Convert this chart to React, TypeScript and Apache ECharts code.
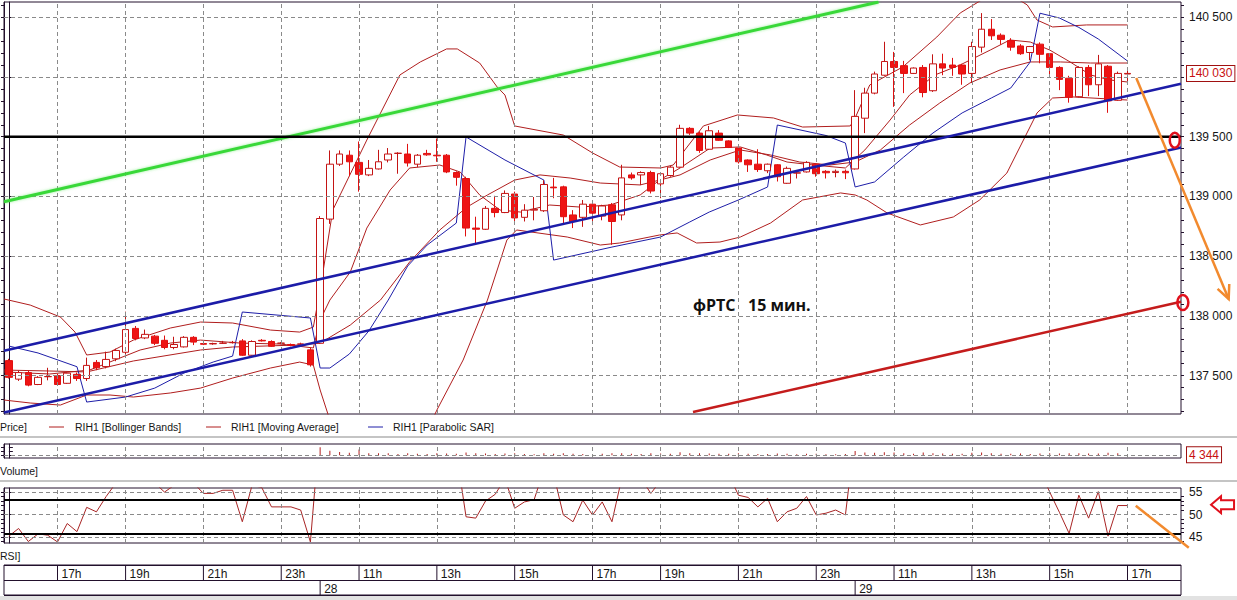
import { useEffect, useRef } from "react";
import * as echarts from "echarts";

// ---------------- DATA ----------------
// candles: [open, close, low, high], one per 15-minute bar (27th 15:45 ... 29th 17:00)
const candles: number[][] = [
  [137625, 137485, 137475, 137640], [137470, 137525, 137455, 137540], [137525, 137420, 137410, 137540],
  [137425, 137485, 137420, 137495], [137490, 137492, 137460, 137565], [137500, 137425, 137415, 137515],
  [137435, 137520, 137430, 137525], [137510, 137475, 137455, 137525], [137475, 137585, 137455, 137650],
  [137610, 137565, 137545, 137630], [137575, 137635, 137560, 137700], [137640, 137710, 137620, 137725],
  [137695, 137885, 137655, 138035], [137895, 137810, 137795, 137915], [137815, 137845, 137805, 137885],
  [137830, 137770, 137755, 137840], [137795, 137735, 137720, 137835], [137735, 137760, 137720, 137825],
  [137740, 137820, 137735, 137830], [137820, 137780, 137755, 137830], [137768, 137762, 137755, 137775],
  [137765, 137768, 137758, 137775], [137770, 137772, 137765, 137790], [137775, 137778, 137768, 137790],
  [137790, 137670, 137665, 137805], [137670, 137785, 137665, 137795], [137795, 137790, 137785, 137805],
  [137785, 137745, 137740, 137795], [137770, 137772, 137762, 137780], [137760, 137752, 137745, 137768],
  [137762, 137765, 137755, 137775], [137715, 137590, 137575, 137735], [137770, 138815, 137765, 138835],
  [138810, 139270, 138770, 139385], [139270, 139355, 139255, 139385], [139345, 139290, 139170, 139385],
  [139285, 139185, 139040, 139460], [139180, 139235, 139170, 139305], [139230, 139290, 139225, 139390],
  [139305, 139355, 139285, 139405], [139360, 139362, 139190, 139370], [139355, 139280, 139250, 139440],
  [139270, 139345, 139245, 139355], [139360, 139348, 139340, 139390], [139345, 139340, 139290, 139485],
  [139345, 139205, 139195, 139355], [139200, 139160, 139090, 139210], [139150, 138735, 138665, 139165],
  [138735, 138725, 138595, 138830], [138725, 138900, 138720, 138920], [138900, 138865, 138825, 139005],
  [138865, 139025, 138860, 139050], [139020, 138820, 138775, 139040], [138825, 138885, 138790, 138935],
  [138885, 138892, 138800, 138995], [138880, 139100, 138870, 139135], [139078, 139072, 138985, 139155],
  [139080, 138830, 138775, 139090], [138845, 138790, 138735, 138885], [138825, 138935, 138745, 138970],
  [138935, 138860, 138760, 138945], [138835, 138920, 138800, 138930], [138930, 138790, 138595, 138945],
  [138845, 139155, 138800, 139265], [139180, 139155, 139140, 139200], [139180, 139200, 139095, 139210],
  [139200, 139045, 139025, 139215], [139105, 139190, 138985, 139200], [139175, 139245, 139165, 139255],
  [139245, 139570, 139240, 139600], [139570, 139530, 139515, 139580], [139530, 139385, 139365, 139545],
  [139395, 139550, 139390, 139590], [139530, 139470, 139465, 139555], [139465, 139410, 139405, 139470],
  [139405, 139290, 139275, 139410], [139305, 139265, 139205, 139310], [139270, 139225, 139205, 139395],
  [139215, 139270, 139195, 139275], [139265, 139165, 139125, 139270], [139110, 139235, 139105, 139250],
  [139195, 139198, 139150, 139210], [139205, 139285, 139200, 139295], [139270, 139190, 139165, 139275],
  [139210, 139198, 139150, 139220], [139200, 139210, 139160, 139225], [139210, 139198, 139145, 139225],
  [139230, 139670, 139225, 139890], [139655, 139865, 139530, 139910], [139865, 140025, 139855, 140045],
  [140015, 140130, 140010, 140295], [140130, 140080, 139750, 140210], [140095, 140030, 139865, 140135],
  [140030, 140075, 140025, 140080], [140080, 139870, 139830, 140100], [139885, 140110, 139875, 140190],
  [140110, 140075, 140015, 140195], [140100, 140080, 140010, 140160], [140100, 140025, 139935, 140110],
  [140030, 140255, 139950, 140295], [140250, 140400, 140205, 140535], [140400, 140345, 140310, 140485],
  [140350, 140315, 140270, 140365], [140305, 140250, 140220, 140325], [140260, 140195, 140185, 140275],
  [140205, 140255, 140140, 140260], [140275, 140190, 140115, 140290], [140195, 140080, 140005, 140200],
  [140080, 139980, 139890, 140090], [139990, 139830, 139785, 140010], [139835, 140080, 139830, 140090],
  [140080, 139935, 139840, 140100], [139935, 140110, 139840, 140185], [140090, 139800, 139700, 140100],
  [139805, 140030, 139800, 140045], [140025, 140030, 139935, 140080],
];

const volume: number[] = [
  0, 0, 0, 0, 0, 0, 0, 0, 0, 0, 0, 0, 0, 0, 0, 0, 0, 0, 0, 0, 0, 0, 0, 0, 0, 0, 0, 0, 0, 0, 0, 0,
  85000, 47000, 35000, 25000, 60000, 20000, 20000, 20000, 12000, 20000, 15000, 12000, 22000, 18000, 15000, 30000,
  22000, 18000, 12000, 18000, 20000, 12000, 10000, 22000, 15000, 20000, 15000, 12000, 12000, 15000, 20000, 22000,
  15000, 12000, 20000, 18000, 15000, 32000, 20000, 22000, 18000, 15000, 15000, 22000, 15000, 12000, 12000, 18000,
  15000, 10000, 15000, 15000, 10000, 10000, 12000, 45000, 30000, 25000, 32000, 28000, 22000, 15000, 28000, 22000,
  18000, 15000, 15000, 25000, 30000, 22000, 15000, 15000, 18000, 12000, 18000, 20000, 18000, 22000, 20000, 18000,
  18000, 25000, 20000, 4344,
];

const rsi: number[] = [
  45.2, 46.9, 44.0, 45.7, 45.4, 43.9, 48.0, 46.2, 51.6, 50.6, 54.0, 57.0, 64.0, 60.0, 61.0, 57.0,
  55.0, 56.5, 59.0, 57.0, 54.7, 54.7, 55.4, 55.4, 48.4, 56.5, 56.0, 51.7, 51.7, 51.7, 51.0, 43.9,
  70.0, 78.0, 80.0, 77.0, 73.0, 74.0, 76.0, 77.0, 77.0, 74.0, 75.0, 75.0, 74.0, 68.0, 64.0, 49.5,
  49.2, 53.0, 54.5, 58.0, 51.4, 52.8, 53.3, 60.0, 59.0, 49.9, 48.4, 53.2, 49.9, 52.8, 48.4, 58.0,
  57.0, 58.0, 54.7, 57.5, 60.0, 69.0, 67.0, 60.0, 64.0, 62.0, 59.0, 54.3, 53.8, 51.7, 53.6, 48.4,
  50.6, 51.4, 54.0, 49.9, 50.3, 51.0, 49.9, 68.0, 72.0, 75.0, 77.0, 74.0, 71.0, 72.0, 63.0, 68.0,
  67.0, 66.0, 63.0, 69.0, 72.0, 70.0, 68.0, 65.0, 62.0, 63.0, 60.0, 55.0, 50.5, 45.8, 54.3, 49.2,
  55.1, 45.2, 52.0, 52.0,
];

// indicator lines: [bar index, price] at the vertices
const bbUpper: number[][] = [
  [-0.5, 138141], [2.2, 138090], [5.3, 137990], [6.8, 137864], [8.0, 137672], [10.4, 137697], [12.8, 137797],
  [16.6, 137898], [19.7, 137948], [23.0, 137940], [26.9, 137881], [29.9, 137864], [31.3, 137906], [32.0, 138216],
  [33.3, 138886], [36.8, 139472], [40.2, 140017], [42.3, 140126], [45.0, 140235], [46.1, 140235], [48.4, 140117],
  [50.2, 139916], [51.0, 139849], [52.0, 139590], [57.0, 139514], [60.0, 139364], [62.8, 139246], [67.0, 139238],
  [68.3, 139263], [71.4, 139590], [74.9, 139682], [78.6, 139657], [81.6, 139581], [86.5, 139590], [87.0, 139657],
  [88.5, 139933], [91.9, 140084], [95.4, 140335], [97.8, 140536], [100.0, 140645], [102.4, 140720], [104.7, 140603],
  [105.7, 140477], [107.3, 140419], [110.8, 140436], [115.0, 140436],
];
const bbMiddle: number[][] = [
  [-0.5, 137546], [4.2, 137538], [8.0, 137530], [12.8, 137622], [19.7, 137714], [23.0, 137739], [29.9, 137756],
  [32.0, 137772], [35.1, 137923], [38.2, 138132], [41.2, 138451], [44.3, 138719], [47.1, 138911], [49.2, 139012],
  [52.0, 139137], [54.6, 139180], [57.7, 139154], [60.8, 139112], [64.9, 139096], [69.0, 139180], [72.1, 139305],
  [75.2, 139389], [78.3, 139347], [81.3, 139288], [84.4, 139263], [87.0, 139288], [89.6, 139389], [92.6, 139598],
  [95.7, 139782], [98.8, 139950], [101.9, 140059], [105.0, 140126], [108.1, 140126], [111.2, 140117], [115.0, 140117],
];
const bbLower: number[][] = [
  [-0.5, 137295], [2.2, 137270], [5.3, 137253], [8.0, 137337], [10.4, 137337], [12.8, 137320], [16.6, 137354],
  [19.7, 137395], [23.0, 137479], [26.9, 137563], [29.9, 137613], [31.3, 137588], [32.0, 137379], [32.8, 137178],
  [34.6, 136709], [38.2, 136457], [41.2, 136709], [44.0, 137211], [46.7, 137630], [49.2, 138132], [51.2, 138635],
  [52.2, 138719], [57.4, 138660], [60.8, 138593], [62.8, 138610], [66.9, 138677], [68.7, 138694], [70.7, 138610],
  [73.1, 138618], [75.2, 138660], [78.3, 138777], [81.6, 138970], [85.5, 139029], [87.0, 139012], [88.2, 138970],
  [90.3, 138861], [93.7, 138761], [97.1, 138828], [99.8, 138970], [102.6, 139196], [105.7, 139699], [107.3, 139824],
  [109.4, 139833], [115.0, 139807],
];
const maLine: number[][] = [
  [-0.5, 137530], [4.2, 137513], [8.3, 137546], [10.9, 137630], [13.5, 137714], [16.6, 137772], [19.7, 137797],
  [23.8, 137772], [27.9, 137764], [31.3, 137731], [32.0, 137965], [33.0, 138132], [35.1, 138367], [36.8, 138735],
  [39.2, 139054], [41.2, 139238], [44.3, 139263], [46.4, 139204], [48.4, 139012], [50.5, 138886], [52.6, 138869],
  [55.6, 138928], [58.7, 138911], [61.8, 138928], [64.9, 139012], [66.9, 139137], [69.0, 139238], [72.1, 139405],
  [75.2, 139414], [77.9, 139347], [80.0, 139288], [82.7, 139263], [86.0, 139238], [88.0, 139389], [90.6, 139640],
  [92.6, 139849], [95.2, 140017], [97.8, 140101], [100.9, 140226], [102.9, 140310], [105.0, 140293], [107.0, 140226],
  [109.1, 140126], [111.2, 140017], [113.2, 139975], [115.0, 139958],
];
const sarLine: number[][] = [
  [0, 137747], [3, 137689], [7, 137574], [8, 137278], [12, 137320], [15, 137395], [18, 137521], [21, 137613],
  [23, 137663], [24, 138032], [31, 137982], [32, 137563], [33, 137563], [35, 137680], [37, 137873], [39, 138132],
  [41, 138417], [43, 138593], [46, 138777], [47, 139498], [51, 139305], [55, 139137], [56, 138467], [62, 138576],
  [67, 138660], [70, 138786], [72, 138869], [75, 138970], [78, 139079], [79, 139598], [84, 139510], [86, 139447],
  [87, 139079], [89, 139121], [92, 139330], [95, 139531], [98, 139699], [101, 139824], [103, 139908], [105, 140126],
  [106, 140534], [108, 140494], [110, 140415], [112, 140318], [115, 140134],
];

// hand-drawn trend lines and annotations: [bar index, price]
const greenTrend = [[-0.5, 138956], [89.4, 140628]];
const blueUpper = [[-0.5, 137707], [120.5, 139943]];
const blueLower = [[-0.5, 137191], [120.5, 139410]];
const redTrend = [[70.33, 137194], [120.5, 138118]];
const supportLevel = 139500;
const arrowPrice = [[115.9, 139992], [125.4, 138141]];
const priceMarks = [[119.86, 139471], [120.69, 138111]];
const arrowRsi = [[115.85, 51.96], [121.3, 42.6]];
const rsiMark = [124.77, 52.2];

// axis labels
const hourIdx = [5, 12, 20, 28, 36, 44, 52, 60, 67, 75, 83, 91, 99, 107, 115];
const hourLabels = ["17h", "19h", "21h", "23h", "11h", "13h", "15h", "17h", "19h", "21h", "23h", "11h", "13h", "15h", "17h"];
const dayIdx = [32, 87];
const dayLabels = ["28", "29"];
const priceTicks = [137500, 138000, 138500, 139000, 139500, 140000, 140500];
const lastPrice = 140030;
const lastVolume = 4344;
const rsiTicks = [45, 50, 55];
const rsiMinorTicks = [44, 46, 47, 48, 49, 51, 52, 53, 54];
const rsiLevels = [53.2, 45.7];

// ---------------- STYLE / LAYOUT ----------------
const FONT = "'Liberation Sans', Arial, sans-serif";
const FRAME = "#22102c";
const DASH = "#8a8a8a";
const IND = "#b01e1e";
const SARC = "#1e1ea8";
const TXT = "#161616";
const ORANGE = "#f28a2e";
const MARK_RED = "#e0101c";
const X_MIN = -0.5;
const X_MAX = 120.5;
const SLOTS = 121;
const P_MIN = 137178;
const P_MAX = 140628;
const V_MIN = -30000;
const V_MAX = 120000;
const R_MIN = 43.67;
const R_MAX = 55.9;
const LEGEND_FONT = `11px ${FONT}`;
const LEGEND_SCALE = 0.955;

const fmt = (v: number) => String(Math.round(v)).replace(/\B(?=(\d{3})+(?!\d))/g, " ");

const minorPrice: number[] = [];
for (let v = 137200; v <= 140600; v += 100) minorPrice.push(v);

function gridBox(top: number, height: number) {
  return {
    left: 4, top, width: 1177, height, show: true, borderColor: FRAME, borderWidth: 1,
    backgroundColor: "#ffffff", outerBoundsMode: "none", containLabel: false,
  };
}
const valueX = (gridIndex: number) => ({ type: "value", gridIndex, min: X_MIN, max: X_MAX, show: false });
const noSplit = { show: false };
const labelStyle = { color: TXT, fontSize: 12, fontFamily: FONT };

function gridLines(xAxisIndex: number, yAxisIndex: number, hValues: number[], extra: any[] = []) {
  return {
    type: "line", xAxisIndex, yAxisIndex, data: [], silent: true, z: 1,
    markLine: {
      silent: true, symbol: ["none", "none"], animation: false, label: { show: false },
      lineStyle: { color: DASH, width: 1, type: [4, 3] },
      data: [...hourIdx.map((v) => ({ xAxis: v })), ...hValues.map((v) => ({ yAxis: v })), ...extra],
    },
  };
}
const indLine = (data: number[][], color: string) => ({
  type: "line", xAxisIndex: 1, yAxisIndex: 0, data, symbol: "none", silent: true, z: 2,
  lineStyle: { color, width: 1 },
});
const trend = (data: number[][], color: string, width: number, glow?: string) => ({
  type: "line", xAxisIndex: 1, yAxisIndex: 0, data, symbol: "none", silent: true, z: 5,
  lineStyle: { color, width, shadowBlur: glow ? 3 : 0, shadowColor: glow || "transparent" },
});
const legendText = (x: number, y: number, text: string) => ({
  type: "text", x, y, scaleX: LEGEND_SCALE, silent: true,
  style: { text, fill: TXT, font: LEGEND_FONT, verticalAlign: "middle" },
});

function buildOption(): any {
  const categoryNames = Array.from({ length: SLOTS }, (_, i) => String(i));
  return {
    animation: false,
    backgroundColor: "#ffffff",
    grid: [gridBox(2, 412), gridBox(444, 14), gridBox(488, 55), gridBox(565, 30)],
    xAxis: [
      { type: "category", gridIndex: 0, data: categoryNames, boundaryGap: true, show: false },
      valueX(0), valueX(1), valueX(2), valueX(3),
    ],
    yAxis: [
      { // 0 main labels
        type: "value", gridIndex: 0, position: "right", min: P_MIN, max: P_MAX, splitLine: noSplit,
        axisLine: { show: true, lineStyle: { color: FRAME, width: 1 } },
        axisTick: { show: true, customValues: priceTicks, length: 6, lineStyle: { color: FRAME } },
        axisLabel: { ...labelStyle, margin: 8, customValues: priceTicks.filter((v) => Math.abs(v - lastPrice) > 60), formatter: fmt },
      },
      { // 1 main minor ticks
        type: "value", gridIndex: 0, position: "right", min: P_MIN, max: P_MAX, splitLine: noSplit,
        axisLine: { show: false }, axisLabel: { show: false },
        axisTick: { show: true, customValues: minorPrice, length: 3, lineStyle: { color: FRAME } },
      },
      { // 2 last price box
        type: "value", gridIndex: 0, position: "right", min: P_MIN, max: P_MAX, splitLine: noSplit,
        axisLine: { show: false }, axisTick: { show: false },
        axisLabel: {
          customValues: [lastPrice], formatter: fmt, color: "#c81010", fontSize: 12, fontFamily: FONT, margin: 6,
          borderColor: "#a01010", borderWidth: 1, padding: [2, 2, 1, 2], backgroundColor: "#ffffff",
        },
      },
      { // 3 main left
        type: "value", gridIndex: 0, position: "left", min: P_MIN, max: P_MAX, splitLine: noSplit,
        axisLine: { show: true, lineStyle: { color: FRAME } }, axisLabel: { show: false },
        axisTick: { show: true, customValues: minorPrice, length: 3, lineStyle: { color: FRAME } },
      },
      { // 4 volume right
        type: "value", gridIndex: 1, position: "right", min: V_MIN, max: V_MAX, splitLine: noSplit,
        axisLine: { show: true, lineStyle: { color: FRAME } },
        axisTick: { show: true, customValues: [0, 40000, 80000], length: 4, lineStyle: { color: FRAME } },
        axisLabel: {
          customValues: [lastVolume], formatter: fmt, color: "#c81010", fontSize: 12, fontFamily: FONT, margin: 6,
          borderColor: "#a01010", borderWidth: 1, padding: [2, 2, 1, 2], backgroundColor: "#ffffff",
        },
      },
      { // 5 volume left
        type: "value", gridIndex: 1, position: "left", min: V_MIN, max: V_MAX, splitLine: noSplit,
        axisLine: { show: true, lineStyle: { color: FRAME } }, axisLabel: { show: false },
        axisTick: { show: true, customValues: [0, 40000, 80000], length: 3, lineStyle: { color: FRAME } },
      },
      { // 6 rsi right
        type: "value", gridIndex: 2, position: "right", min: R_MIN, max: R_MAX, splitLine: noSplit,
        axisLine: { show: true, lineStyle: { color: FRAME } },
        axisTick: { show: true, customValues: rsiTicks, length: 6, lineStyle: { color: FRAME } },
        axisLabel: { ...labelStyle, margin: 8, customValues: rsiTicks },
      },
      { // 7 rsi minor
        type: "value", gridIndex: 2, position: "right", min: R_MIN, max: R_MAX, splitLine: noSplit,
        axisLine: { show: false }, axisLabel: { show: false },
        axisTick: { show: true, customValues: rsiMinorTicks, length: 3, lineStyle: { color: FRAME } },
      },
      { // 8 rsi left
        type: "value", gridIndex: 2, position: "left", min: R_MIN, max: R_MAX, splitLine: noSplit,
        axisLine: { show: true, lineStyle: { color: FRAME } }, axisLabel: { show: false },
        axisTick: { show: true, customValues: [...rsiTicks, ...rsiMinorTicks], length: 3, lineStyle: { color: FRAME } },
      },
      { // 9 time rows
        type: "value", gridIndex: 3, min: 0, max: 2, interval: 1,
        axisLine: { show: false }, axisTick: { show: false }, axisLabel: { show: false },
        splitLine: { show: true, lineStyle: { color: FRAME, width: 1, type: "solid" } },
      },
    ],
    series: [
      gridLines(1, 0, priceTicks),
      {
        type: "candlestick", xAxisIndex: 0, yAxisIndex: 0, data: candles, barWidth: 7, z: 3, silent: true,
        itemStyle: {
          color: "#ffffff", color0: "#ee1414", borderColor: "#c41414", borderColor0: "#e01010",
          borderColorDoji: "#c41414", borderWidth: 1,
        },
      },
      indLine(bbUpper, IND),
      indLine(bbMiddle, IND),
      indLine(bbLower, IND),
      indLine(maLine, IND),
      indLine(sarLine, SARC),
      trend(greenTrend, "#38d838", 3, "rgba(90,230,90,0.6)"),
      trend([[X_MIN, supportLevel], [X_MAX, supportLevel]], "#000000", 2.5),
      trend(blueUpper, "#1c1ca8", 2.5),
      trend(blueLower, "#1c1ca8", 2.5),
      trend(redTrend, "#c41c1c", 2.5),
      {
        type: "custom", xAxisIndex: 1, yAxisIndex: 0, data: [arrowPrice[0]], clip: false, silent: true, z: 7,
        renderItem: (_p: any, api: any) => {
          const a = api.coord(arrowPrice[0]);
          const b = api.coord(arrowPrice[1]);
          const dx = b[0] - a[0], dy = b[1] - a[1];
          const len = Math.hypot(dx, dy);
          const ux = -dx / len, uy = -dy / len;
          const rot = (ang: number) => [ux * Math.cos(ang) - uy * Math.sin(ang), ux * Math.sin(ang) + uy * Math.cos(ang)];
          const r1 = rot((25 * Math.PI) / 180), r2 = rot((-25 * Math.PI) / 180);
          const L = 15;
          const e1 = api.coord(priceMarks[0]);
          const e2 = api.coord(priceMarks[1]);
          return {
            type: "group",
            children: [
              { type: "line", shape: { x1: a[0], y1: a[1], x2: b[0], y2: b[1] }, style: { stroke: ORANGE, lineWidth: 2.5 } },
              {
                type: "polyline",
                shape: { points: [[b[0] + r1[0] * L, b[1] + r1[1] * L], [b[0], b[1]], [b[0] + r2[0] * L, b[1] + r2[1] * L]] },
                style: { stroke: ORANGE, lineWidth: 2.5, fill: "none" },
              },
              { type: "ellipse", shape: { cx: e1[0], cy: e1[1], rx: 5, ry: 7.5 }, style: { stroke: MARK_RED, lineWidth: 2.5, fill: "none" } },
              { type: "ellipse", shape: { cx: e2[0], cy: e2[1], rx: 5.5, ry: 7.5 }, style: { stroke: MARK_RED, lineWidth: 2.5, fill: "none" } },
            ],
          };
        },
      },
      gridLines(2, 4, [0]),
      {
        type: "bar", xAxisIndex: 2, yAxisIndex: 4, data: volume.map((v, i) => [i, v]), barWidth: 1, silent: true, z: 2,
        itemStyle: { color: "#b42020" },
      },
      gridLines(3, 6, rsiTicks, rsiLevels.map((v) => ({ yAxis: v, lineStyle: { color: "#000000", width: 2, type: "solid" } }))),
      {
        type: "line", xAxisIndex: 3, yAxisIndex: 6, data: rsi.map((v, i) => [i, v]), symbol: "none", silent: true, z: 3,
        lineStyle: { color: "#a82424", width: 1 },
      },
      {
        type: "custom", xAxisIndex: 3, yAxisIndex: 6, data: [arrowRsi[0]], clip: false, silent: true, z: 7,
        renderItem: (_p: any, api: any) => {
          const a = api.coord(arrowRsi[0]);
          const b = api.coord(arrowRsi[1]);
          const c = api.coord(rsiMark);
          const pts = [[-11.5, 0], [-1.5, -8.5], [-1.5, -4.5], [11.5, -4.5], [11.5, 4.5], [-1.5, 4.5], [-1.5, 8.5]].map(
            (p) => [c[0] + p[0], c[1] + p[1]]
          );
          return {
            type: "group",
            children: [
              { type: "line", shape: { x1: a[0], y1: a[1], x2: b[0], y2: b[1] }, style: { stroke: ORANGE, lineWidth: 2.5 } },
              { type: "polygon", shape: { points: pts }, style: { stroke: MARK_RED, lineWidth: 2, fill: "#ffffff" } },
            ],
          };
        },
      },
      {
        type: "custom", xAxisIndex: 4, yAxisIndex: 9, data: hourIdx.map((v, i) => [v, i]), clip: false, silent: true, z: 3,
        renderItem: (_p: any, api: any) => {
          const x = api.value(0);
          const k = api.value(1);
          const a = api.coord([x, 2]);
          const b = api.coord([x, 1]);
          return {
            type: "group",
            children: [
              { type: "line", shape: { x1: a[0], y1: a[1], x2: b[0], y2: b[1] }, style: { stroke: FRAME, lineWidth: 1 } },
              { type: "text", x: a[0] + 4, y: (a[1] + b[1]) / 2 + 1, style: { text: hourLabels[k], fill: TXT, font: `12px ${FONT}`, verticalAlign: "middle", align: "left" } },
            ],
          };
        },
      },
      {
        type: "custom", xAxisIndex: 4, yAxisIndex: 9, data: dayIdx.map((v, i) => [v, i]), clip: false, silent: true, z: 3,
        renderItem: (_p: any, api: any) => {
          const x = api.value(0);
          const k = api.value(1);
          const a = api.coord([x, 1]);
          const b = api.coord([x, 0]);
          return {
            type: "group",
            children: [
              { type: "line", shape: { x1: a[0], y1: a[1], x2: b[0], y2: b[1] }, style: { stroke: FRAME, lineWidth: 1 } },
              { type: "text", x: a[0] + 4, y: (a[1] + b[1]) / 2 + 1, style: { text: dayLabels[k], fill: TXT, font: `12px ${FONT}`, verticalAlign: "middle", align: "left" } },
            ],
          };
        },
      },
    ],
    graphic: [
      { type: "rect", shape: { x: 0, y: 596, width: 1237, height: 4 }, style: { fill: "#e2e2e2" }, silent: true },
      { type: "line", shape: { x1: 0, y1: 437, x2: 1237, y2: 437 }, style: { stroke: "#c4c4c4", lineWidth: 2 }, silent: true },
      { type: "line", shape: { x1: 0, y1: 481, x2: 1237, y2: 481 }, style: { stroke: "#c4c4c4", lineWidth: 2 }, silent: true },
      legendText(0, 427, "Price]"),
      { type: "line", shape: { x1: 49, y1: 427, x2: 64, y2: 427 }, style: { stroke: IND, lineWidth: 1 }, silent: true },
      legendText(75, 427, "RIH1 [Bollinger Bands]"),
      { type: "line", shape: { x1: 206, y1: 427, x2: 221, y2: 427 }, style: { stroke: IND, lineWidth: 1 }, silent: true },
      legendText(231, 427, "RIH1 [Moving Average]"),
      { type: "line", shape: { x1: 368, y1: 427, x2: 383, y2: 427 }, style: { stroke: SARC, lineWidth: 1 }, silent: true },
      legendText(393, 427, "RIH1 [Parabolic SAR]"),
      legendText(0, 471, "Volume]"),
      legendText(0, 556, "RSI]"),
      { type: "text", x: 693, y: 305, style: { text: "фРТС", fill: "#111111", font: `bold 16px 'Open Sans', 'Noto Sans', sans-serif`, verticalAlign: "middle" }, silent: true },
      { type: "text", x: 748, y: 305, style: { text: "15 мин.", fill: "#111111", font: `bold 16px 'Open Sans', 'Noto Sans', sans-serif`, verticalAlign: "middle" }, silent: true },
    ],
  };
}

export default function App() {
  const ref = useRef<HTMLDivElement>(null);
  useEffect(() => {
    if (!ref.current) return;
    const chart = echarts.init(ref.current, null, { renderer: "svg" });
    chart.setOption(buildOption());
    return () => chart.dispose();
  }, []);
  return <div ref={ref} style={{ position: "absolute", left: 0, top: 0, width: 1237, height: 600 }} />;
}
